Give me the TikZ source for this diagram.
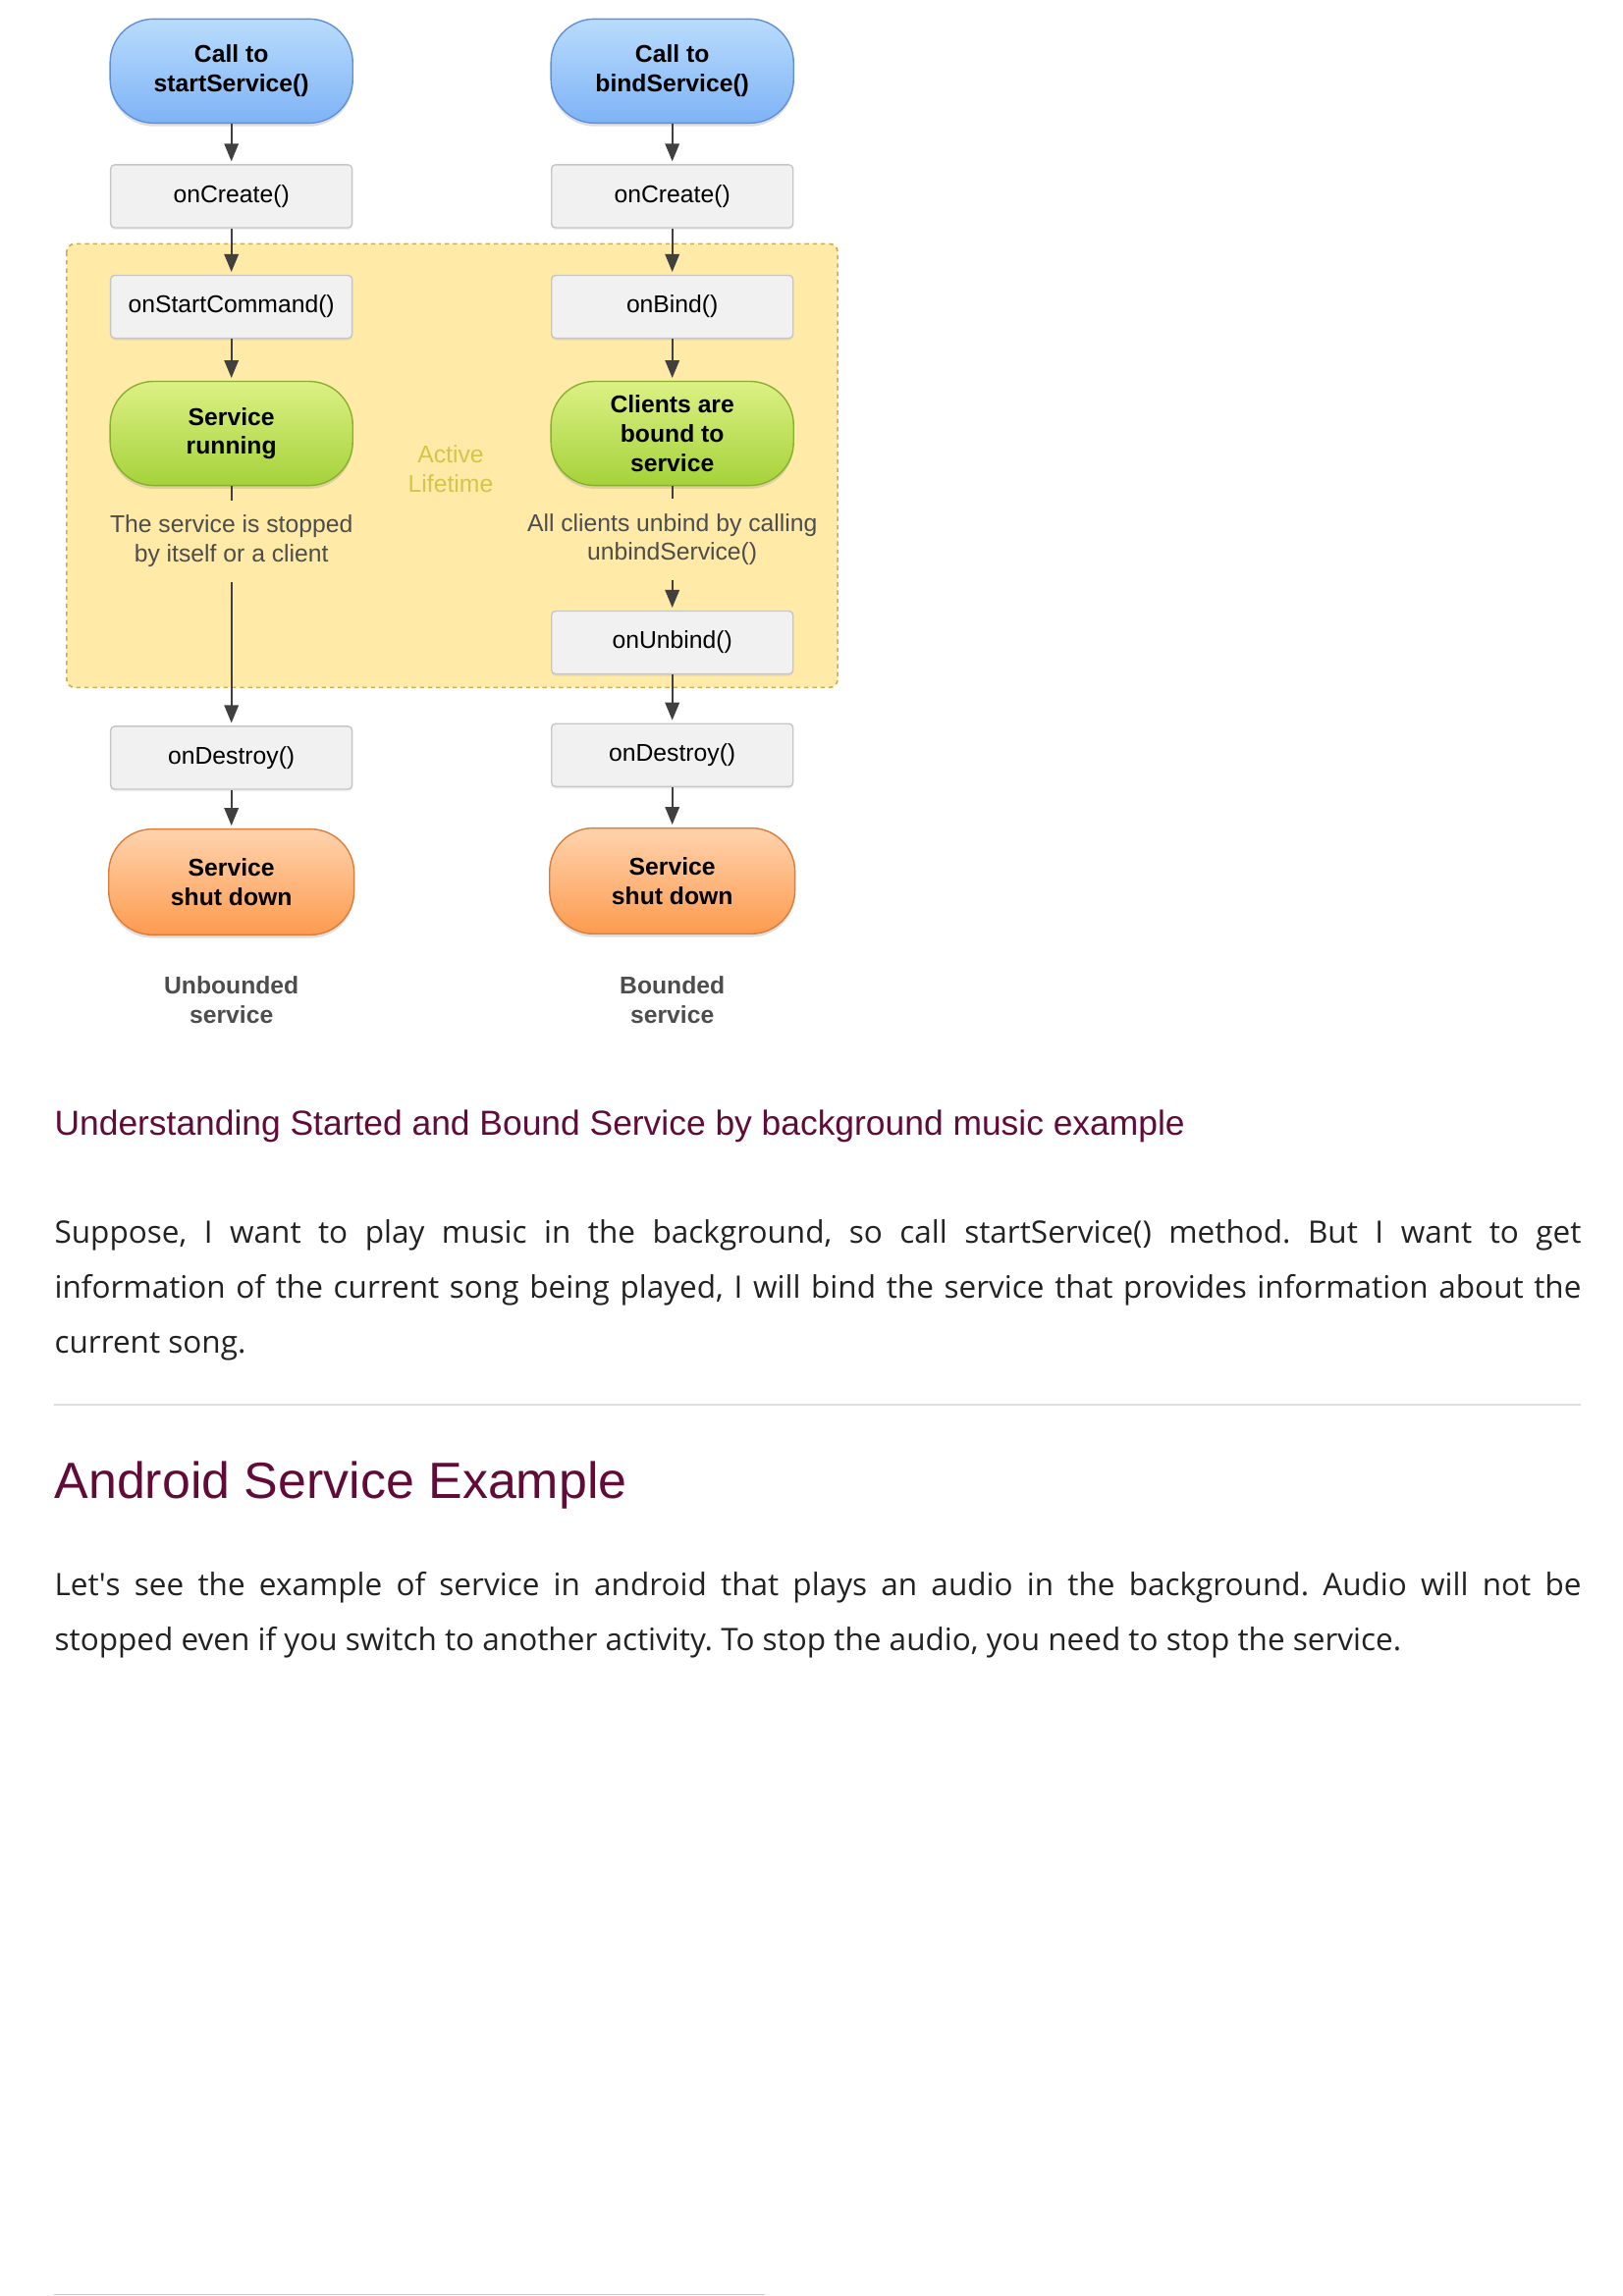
\documentclass[tikz,border=0pt]{standalone}
\usepackage{fontspec}
\setmainfont{Open Sans}
\newfontfamily\diafont{Liberation Sans}
\usetikzlibrary{arrows.meta,shadows}
\frenchspacing

\definecolor{calltop}{HTML}{B9DCFC}
\definecolor{callbottom}{HTML}{7EB3F6}
\definecolor{callborder}{HTML}{5E8FD9}
\definecolor{runtop}{HTML}{DCF185}
\definecolor{runbottom}{HTML}{A5D23A}
\definecolor{runborder}{HTML}{88B02C}
\definecolor{endtop}{HTML}{FFD3AE}
\definecolor{endbottom}{HTML}{FD9B4F}
\definecolor{endborder}{HTML}{DB7D3A}
\definecolor{boxfill}{HTML}{F1F1F1}
\definecolor{boxborder}{HTML}{C6C6C6}
\definecolor{zonefill}{HTML}{FFEAA8}
\definecolor{zoneborder}{HTML}{CDAE55}
\definecolor{lifecolor}{HTML}{D4C64A}
\definecolor{notegray}{HTML}{4D4D4D}
\definecolor{arrowgray}{HTML}{404040}
\definecolor{headpurple}{HTML}{610B38}
\definecolor{bodygray}{HTML}{222222}
\definecolor{rulegray}{HTML}{DDDDDD}

\tikzset{
  diatext/.style={font=\diafont\fontsize{8.9}{10.7}\selectfont},
  diabold/.style={font=\diafont\bfseries\fontsize{8.9}{10.7}\selectfont},
  stadium/.style={diabold, align=center, rounded corners=16pt, line width=0.5pt,
    minimum width=89pt, minimum height=38.2pt,
    drop shadow={opacity=0.25, shadow xshift=0pt, shadow yshift=-1.2pt}},
  callnode/.style={stadium, draw=callborder, top color=calltop, bottom color=callbottom},
  runnode/.style={stadium, draw=runborder, top color=runtop, bottom color=runbottom},
  endnode/.style={stadium, draw=endborder, top color=endtop, bottom color=endbottom, minimum width=90pt, minimum height=38.8pt},
  stepbox/.style={diatext, draw=boxborder, fill=boxfill, rounded corners=1.5pt, line width=0.5pt,
    minimum width=88.6pt, minimum height=23.1pt,
    drop shadow={opacity=0.12, shadow xshift=0pt, shadow yshift=-0.8pt}},
  notetext/.style={diatext, text=notegray, align=center, inner xsep=0pt, inner ysep=5.3pt},
  kindtext/.style={diabold, text=notegray, align=center, inner sep=0pt},
  lifetext/.style={diatext, text=lifecolor, align=center, inner sep=0pt},
  flow/.style={draw=arrowgray, line width=0.7pt, shorten >=1pt, -{Triangle[length=6.5pt,width=5.2pt]}},
  plainflow/.style={draw=arrowgray, line width=0.7pt},
  lifezone/.style={fill=zonefill, draw=zoneborder, line width=0.6pt, dash pattern=on 1.6pt off 1.4pt, rounded corners=3pt},
  headtext/.style={anchor=base west, inner sep=0pt, text=headpurple},
  bodytext/.style={anchor=base west, inner sep=0pt, text=bodygray, text width=560pt, align=justify,
    font=\fontsize{11.35}{20.2}\selectfont},
}

\begin{document}
\begin{tikzpicture}[x=0.53726pt, y=-0.53726pt]
\useasboundingbox (0,0) rectangle (1108,1568);

% active lifetime zone
\draw[lifezone] (45.5,166.5) rectangle (571.9,469.5);

% started service column
\node[callnode] (callstart) at (158,48.5) {Call to\\startService()};
\node[stepbox] (createL) at (158,134) {onCreate()};
\node[stepbox] (startcmd) at (158,209.5) {onStartCommand()};
\node[runnode] (running) at (158,296) {Service\\running};
\node[notetext] (stopnote) at (158,369.5) {The service is stopped\\by itself or a client};
\node[stepbox] (destroyL) at (158,517.5) {onDestroy()};
\node[endnode] (downL) at (158,602.3) {Service\\shut down};
\node[kindtext] (unbounded) at (158,683) {Unbounded\\service};

% bound service column
\node[callnode] (callbind) at (459,48.5) {Call to\\bindService()};
\node[stepbox] (createR) at (459,134) {onCreate()};
\node[stepbox] (bind) at (459,209.5) {onBind()};
\node[runnode] (bound) at (459,296) {Clients are\\bound to\\service};
\node[notetext] (unbindnote) at (459,368.5) {All clients unbind by calling\\unbindService()};
\node[stepbox] (unbind) at (459,438.8) {onUnbind()};
\node[stepbox] (destroyR) at (459,515.7) {onDestroy()};
\node[endnode] (downR) at (459,601.6) {Service\\shut down};
\node[kindtext] (bounded) at (459,683) {Bounded\\service};

\node[lifetext] (active) at (307.7,320) {Active\\Lifetime};

\draw[flow] (callstart) -- (createL);
\draw[flow] (createL) -- (startcmd);
\draw[flow] (startcmd) -- (running);
\draw[plainflow] (running) -- (stopnote);
\draw[flow] (stopnote) -- (destroyL);
\draw[flow] (destroyL) -- (downL);

\draw[flow] (callbind) -- (createR);
\draw[flow] (createR) -- (bind);
\draw[flow] (bind) -- (bound);
\draw[plainflow] (bound) -- (unbindnote);
\draw[flow] (unbindnote) -- (unbind);
\draw[flow] (unbind) -- (destroyR);
\draw[flow] (destroyR) -- (downR);

% page text
\node[headtext, font=\diafont\fontsize{12.75}{15}\selectfont] (heading) at (36.9,775.4)
  {Understanding Started and Bound Service by background music example};
\node[bodytext] (musicpara) at (36.9,849.2)
  {Suppose, I want to play music in the background, so call startService() method. But I want to get\linebreak
   information of the current song being played, I will bind the service that provides information about the\linebreak
   current song.};
\draw[rulegray, line width=0.7pt] (36.9,959) -- (1079.4,959);
\node[headtext, font=\diafont\fontsize{18.7}{22}\selectfont] (exampletitle) at (36.9,1023.5)
  {Android Service Example};
\node[bodytext] (audiopara) at (36.9,1089.4)
  {Let\textquotesingle s see the example of service in android that plays an audio in the background. Audio will not be\linebreak
   stopped even if you switch to another activity. To stop the audio, you need to stop the service.};
\draw[rulegray!80!gray, line width=0.5pt] (36.9,1567) -- (522,1567);
\end{tikzpicture}
\end{document}
